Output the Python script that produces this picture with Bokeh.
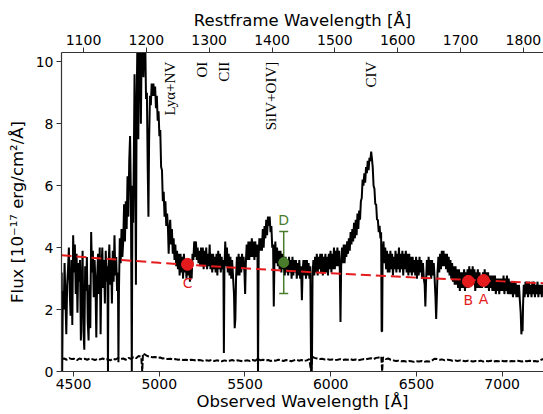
import math
from bokeh.plotting import figure
from bokeh.models import Range1d, LinearAxis, FixedTicker, ColumnDataSource, Whisker, TeeHead
from bokeh.embed import file_html
from bokeh.resources import INLINE
from bokeh.core.properties import value

# ---------------- data ----------------
# observed spectrum: (wavelength [Å], flux [1e-17 erg/cm2/Å])
spectrum = [
    (4431, 3.2), (4434, 0.0), (4438, 2.6), (4443, 2.0), (4448, 3.5), (4453, 2.3), (4458, 1.2), (4463, 2.8),
    (4468, 3.3), (4473, 4.0), (4478, 2.6), (4483, 1.8), (4488, 3.6), (4493, 1.5), (4498, 4.4), (4503, 3.2),
    (4508, 4.1), (4513, 2.5), (4518, 3.8), (4523, 1.9), (4528, 3.5), (4533, 2.9), (4538, 3.6), (4543, 1.0),
    (4548, 2.7), (4553, 3.9), (4558, 1.3), (4563, 0.7), (4568, 3.4), (4573, 2.6), (4578, 3.7), (4583, 1.6),
    (4588, 1.0), (4593, 2.8), (4598, 1.4), (4603, 4.5), (4608, 3.2), (4613, 3.9), (4618, 2.4), (4623, 3.6),
    (4628, 2.9), (4633, 1.1), (4638, 3.0), (4643, 3.8), (4648, 2.5), (4653, 4.0), (4658, 1.2), (4663, 3.3),
    (4668, 4.0), (4673, 2.7), (4678, 3.6), (4683, 2.2), (4688, 3.9), (4693, 2.9), (4698, 3.4), (4701, 0.0),
    (4704, 3.3), (4709, 4.1), (4714, 2.8), (4719, 3.6), (4724, 2.2), (4729, 3.9), (4734, 2.9), (4739, 4.4),
    (4744, 3.1), (4749, 3.7), (4754, 2.6), (4759, 3.2), (4762, 0.3), (4765, 2.6), (4770, 4.3), (4775, 3.5),
    (4780, 4.6), (4785, 3.7), (4790, 4.2), (4795, 5.4), (4800, 4.2), (4805, 5.5), (4810, 4.6), (4815, 6.3),
    (4820, 5.0), (4825, 6.8), (4830, 7.6), (4835, 5.5), (4840, 0.0), (4844, 6.0), (4848, 4.8), (4852, 7.0),
    (4856, 9.6), (4860, 7.0), (4864, 2.8), (4868, 8.5), (4873, 10.8), (4878, 7.5), (4883, 10.8), (4888, 10.8),
    (4893, 8.0), (4898, 10.8), (4903, 10.8), (4908, 9.5), (4913, 10.8), (4918, 10.8), (4923, 8.8), (4928, 9.0),
    (4933, 6.5), (4937, 5.0), (4941, 7.5), (4946, 8.9), (4951, 8.6), (4956, 9.3), (4961, 8.9), (4966, 9.3),
    (4971, 8.9), (4976, 9.2), (4981, 8.5), (4986, 8.9), (4991, 8.1), (4996, 8.4), (5001, 7.6), (5006, 7.8),
    (5011, 6.6), (5016, 6.5), (5021, 5.5), (5026, 5.8), (5031, 5.0), (5036, 5.5), (5041, 4.7), (5046, 5.1),
    (5051, 4.6), (5055, 3.8), (5059, 4.5), (5064, 4.9), (5069, 4.1), (5074, 4.6), (5079, 3.8), (5084, 4.3),
    (5089, 3.6), (5094, 4.1), (5099, 3.4), (5104, 3.9), (5109, 3.3), (5114, 3.8), (5119, 3.1), (5124, 3.8),
    (5129, 3.2), (5134, 3.7), (5139, 3.0), (5144, 3.8), (5149, 3.2), (5154, 3.6), (5159, 3.0), (5164, 3.6),
    (5169, 3.1), (5174, 3.6), (5179, 2.9), (5184, 3.5), (5189, 3.0), (5194, 3.8), (5199, 3.6), (5204, 4.2),
    (5209, 3.7), (5214, 4.2), (5219, 3.6), (5224, 4.0), (5229, 3.5), (5234, 3.9), (5239, 3.4), (5244, 4.0),
    (5249, 3.4), (5254, 4.0), (5259, 3.3), (5264, 3.9), (5269, 3.4), (5274, 4.0), (5279, 3.3), (5284, 3.8),
    (5289, 3.4), (5294, 4.1), (5299, 3.3), (5304, 3.8), (5309, 3.2), (5314, 3.8), (5319, 3.3), (5324, 3.7),
    (5329, 3.2), (5334, 3.8), (5339, 3.1), (5344, 3.9), (5349, 3.3), (5354, 3.8), (5359, 3.2), (5364, 3.7),
    (5369, 3.3), (5374, 3.6), (5377, 0.6), (5380, 3.3), (5385, 4.2), (5390, 3.4), (5395, 4.0), (5400, 3.2),
    (5405, 3.8), (5410, 3.1), (5415, 3.7), (5420, 3.0), (5425, 3.6), (5430, 3.1), (5436, 2.5), (5440, 1.4),
    (5444, 1.7), (5448, 3.0), (5453, 3.7), (5458, 3.1), (5463, 3.8), (5468, 3.1), (5473, 3.7), (5478, 3.2),
    (5483, 3.8), (5488, 3.3), (5492, 3.7), (5497, 3.2), (5501, 2.5), (5505, 3.5), (5510, 4.1), (5515, 3.6),
    (5520, 4.2), (5525, 3.6), (5530, 4.2), (5535, 3.7), (5540, 4.3), (5545, 3.7), (5550, 4.2), (5555, 3.6),
    (5560, 4.2), (5565, 3.7), (5570, 4.1), (5573, 3.8), (5576, -0.2), (5580, 3.8), (5584, 4.3), (5589, 3.9),
    (5594, 4.3), (5599, 3.9), (5604, 4.6), (5609, 4.0), (5614, 4.7), (5619, 4.3), (5624, 4.9), (5629, 4.4),
    (5634, 5.0), (5639, 4.7), (5644, 5.0), (5649, 4.5), (5654, 4.7), (5659, 4.0), (5664, 4.1), (5668, 2.1),
    (5672, 3.6), (5677, 4.2), (5682, 3.5), (5687, 4.0), (5692, 3.4), (5697, 3.9), (5702, 3.3), (5707, 3.9),
    (5712, 3.2), (5717, 3.8), (5722, 3.3), (5727, 3.7), (5732, 3.1), (5737, 3.7), (5742, 3.2), (5747, 3.6),
    (5752, 3.1), (5757, 3.7), (5762, 3.2), (5767, 3.6), (5772, 3.0), (5777, 3.7), (5782, 3.1), (5787, 3.6),
    (5792, 3.2), (5797, 3.6), (5802, 3.0), (5807, 3.5), (5812, 3.1), (5817, 3.6), (5822, 3.0), (5827, 3.4),
    (5832, 2.3), (5836, 3.2), (5841, 3.6), (5846, 3.1), (5851, 3.6), (5856, 3.0), (5861, 3.6), (5866, 3.1),
    (5871, 3.5), (5876, 3.0), (5881, 3.4), (5885, 0.5), (5888, -0.2), (5891, 0.5), (5894, 3.1), (5899, 3.6),
    (5904, 3.1), (5909, 3.7), (5914, 3.2), (5919, 3.8), (5924, 3.1), (5929, 3.7), (5934, 3.3), (5939, 3.8),
    (5944, 3.2), (5949, 3.8), (5954, 3.1), (5959, 3.7), (5964, 3.2), (5969, 3.8), (5974, 3.2), (5979, 3.7),
    (5984, 3.1), (5989, 3.8), (5994, 3.3), (5999, 3.9), (6004, 3.2), (6009, 3.8), (6014, 3.3), (6019, 4.0),
    (6024, 3.3), (6029, 3.9), (6034, 3.4), (6039, 4.0), (6044, 3.4), (6049, 3.9), (6053, 3.3), (6057, 1.6),
    (6061, 3.4), (6066, 4.0), (6071, 3.5), (6076, 4.1), (6081, 3.5), (6086, 4.1), (6091, 3.7), (6096, 4.2),
    (6101, 3.8), (6106, 4.3), (6111, 3.9), (6116, 4.5), (6121, 4.1), (6126, 4.6), (6131, 4.2), (6136, 4.8),
    (6141, 4.3), (6146, 4.9), (6151, 4.4), (6156, 5.1), (6161, 4.6), (6166, 5.2), (6171, 4.9), (6176, 5.5),
    (6181, 5.6), (6186, 6.2), (6191, 6.0), (6196, 6.4), (6201, 6.1), (6206, 6.6), (6211, 6.4), (6216, 6.8),
    (6221, 6.5), (6226, 6.9), (6231, 6.8), (6236, 7.1), (6240, 6.9), (6245, 6.6), (6250, 6.0), (6255, 5.9),
    (6260, 5.4), (6265, 5.4), (6270, 4.9), (6275, 4.9), (6280, 4.5), (6285, 4.7), (6290, 4.3), (6294, 4.5),
    (6297, 1.3), (6300, 1.3), (6303, 3.9), (6308, 4.2), (6313, 3.5), (6318, 4.0), (6323, 3.3), (6328, 3.9),
    (6333, 3.2), (6338, 3.8), (6343, 3.2), (6348, 3.9), (6353, 3.3), (6358, 3.8), (6363, 3.1), (6368, 3.7),
    (6373, 3.3), (6378, 3.9), (6383, 3.2), (6388, 3.8), (6393, 3.3), (6398, 4.0), (6403, 3.2), (6408, 3.8),
    (6413, 3.3), (6418, 3.9), (6423, 3.1), (6428, 3.8), (6433, 3.3), (6438, 3.9), (6443, 3.2), (6448, 3.8),
    (6453, 3.1), (6458, 3.8), (6463, 3.2), (6468, 3.7), (6473, 3.1), (6478, 3.7), (6483, 3.2), (6488, 3.6),
    (6493, 3.1), (6498, 3.7), (6503, 3.0), (6508, 3.6), (6513, 3.1), (6518, 3.7), (6523, 3.2), (6528, 3.6),
    (6533, 3.0), (6538, 3.5), (6543, 3.0), (6548, 2.8), (6552, 2.1), (6556, 2.9), (6561, 3.6), (6566, 3.1),
    (6571, 3.7), (6576, 3.1), (6581, 3.6), (6586, 3.0), (6591, 3.6), (6596, 3.1), (6601, 3.5), (6606, 3.0),
    (6611, 2.4), (6615, 1.7), (6619, 2.4), (6623, 3.2), (6628, 3.7), (6633, 3.2), (6638, 3.8), (6643, 3.3),
    (6648, 3.9), (6653, 3.4), (6658, 3.9), (6663, 3.4), (6668, 3.8), (6673, 3.3), (6678, 3.8), (6683, 3.2),
    (6688, 3.7), (6693, 3.1), (6698, 3.6), (6703, 3.0), (6708, 3.5), (6713, 2.9), (6718, 3.4), (6723, 2.8),
    (6728, 3.4), (6733, 2.8), (6738, 3.3), (6743, 2.7), (6748, 3.3), (6753, 2.6), (6758, 3.2), (6763, 2.7),
    (6768, 3.2), (6773, 2.7), (6778, 3.3), (6783, 2.6), (6788, 3.2), (6793, 2.7), (6798, 3.3), (6803, 2.7),
    (6808, 3.4), (6813, 2.8), (6818, 3.3), (6823, 2.8), (6828, 3.4), (6833, 2.8), (6838, 3.3), (6843, 2.6),
    (6848, 3.2), (6853, 2.7), (6858, 3.3), (6863, 2.7), (6868, 3.2), (6873, 2.7), (6878, 3.1), (6883, 2.7),
    (6888, 3.2), (6893, 2.8), (6898, 3.3), (6903, 2.7), (6908, 3.2), (6913, 2.7), (6918, 3.2), (6923, 2.6),
    (6928, 3.1), (6933, 2.7), (6938, 3.1), (6943, 2.6), (6948, 3.1), (6953, 2.6), (6958, 3.1), (6963, 2.5),
    (6968, 3.0), (6973, 2.6), (6978, 3.0), (6983, 2.5), (6988, 3.0), (6993, 2.6), (6998, 3.0), (7003, 2.6),
    (7008, 3.1), (7013, 2.5), (7018, 3.0), (7023, 2.6), (7028, 3.1), (7033, 2.5), (7038, 3.0), (7043, 2.5),
    (7048, 2.9), (7053, 2.5), (7058, 2.9), (7063, 2.4), (7068, 2.9), (7073, 2.5), (7078, 2.9), (7083, 2.4),
    (7088, 2.8), (7093, 2.4), (7098, 2.8), (7103, 2.3), (7108, 1.9), (7112, 1.2), (7116, 1.6), (7119, 1.3),
    (7122, 2.2), (7126, 2.8), (7131, 2.4), (7136, 2.9), (7141, 2.5), (7146, 2.9), (7151, 2.4), (7156, 2.9),
    (7161, 2.5), (7166, 2.8), (7171, 2.4), (7176, 2.9), (7181, 2.5), (7186, 2.9), (7191, 2.4), (7196, 2.8),
    (7201, 2.5), (7206, 2.9), (7211, 2.4), (7216, 2.8), (7221, 2.5), (7226, 2.8), (7231, 2.4), (7236, 2.8),
    (7241, 2.6),
]

# flux uncertainty spectrum (dashed, near the bottom)
noise = [
    (4432, 0.40), (4445, 0.42), (4460, 0.38), (4475, 0.43), (4490, 0.40), (4505, 0.41), (4520, 0.37), (4535, 0.42),
    (4550, 0.39), (4565, 0.41), (4580, 0.38), (4595, 0.42), (4610, 0.40), (4625, 0.37), (4640, 0.41), (4655, 0.39),
    (4670, 0.42), (4685, 0.38), (4700, 0.40), (4715, 0.36), (4730, 0.41), (4745, 0.39), (4760, 0.43), (4775, 0.40),
    (4790, 0.42), (4805, 0.38), (4820, 0.44), (4835, 0.41), (4850, 0.46), (4865, 0.43), (4880, 0.50), (4895, 0.47),
    (4901, 0.0), (4905, 0.58), (4915, 0.55), (4930, 0.50), (4945, 0.48), (4960, 0.46), (4975, 0.47), (4990, 0.44),
    (5005, 0.45), (5020, 0.42), (5035, 0.43), (5050, 0.40), (5065, 0.41), (5080, 0.39), (5095, 0.40), (5110, 0.38),
    (5125, 0.39), (5140, 0.37), (5155, 0.38), (5170, 0.36), (5185, 0.38), (5200, 0.37), (5215, 0.35), (5230, 0.37),
    (5245, 0.36), (5260, 0.34), (5275, 0.36), (5290, 0.35), (5305, 0.37), (5320, 0.34), (5335, 0.36), (5350, 0.35),
    (5365, 0.33), (5380, 0.36), (5395, 0.34), (5410, 0.35), (5425, 0.37), (5440, 0.34), (5455, 0.36), (5470, 0.35),
    (5485, 0.33), (5500, 0.35), (5515, 0.36), (5530, 0.34), (5545, 0.37), (5560, 0.35), (5575, 0.42), (5590, 0.36),
    (5605, 0.38), (5620, 0.35), (5635, 0.37), (5650, 0.34), (5665, 0.36), (5680, 0.35), (5695, 0.38), (5710, 0.36),
    (5725, 0.34), (5740, 0.37), (5755, 0.35), (5770, 0.33), (5785, 0.36), (5800, 0.38), (5815, 0.35), (5830, 0.37),
    (5845, 0.34), (5860, 0.36), (5875, 0.40), (5886, 0.0), (5892, 0.48), (5905, 0.44), (5920, 0.42), (5935, 0.40),
    (5950, 0.41), (5965, 0.39), (5980, 0.40), (5995, 0.38), (6010, 0.39), (6025, 0.37), (6040, 0.38), (6055, 0.40),
    (6070, 0.37), (6085, 0.39), (6100, 0.38), (6115, 0.40), (6130, 0.37), (6145, 0.39), (6160, 0.36), (6175, 0.38),
    (6190, 0.40), (6205, 0.39), (6220, 0.41), (6235, 0.43), (6250, 0.40), (6265, 0.44), (6280, 0.45), (6295, 0.48),
    (6300, 0.0), (6305, 0.46), (6320, 0.40), (6335, 0.42), (6350, 0.38), (6365, 0.36), (6380, 0.34), (6395, 0.35),
    (6410, 0.33), (6425, 0.34), (6440, 0.32), (6455, 0.34), (6470, 0.33), (6485, 0.31), (6500, 0.33), (6515, 0.32),
    (6530, 0.34), (6545, 0.31), (6560, 0.33), (6575, 0.32), (6590, 0.35), (6605, 0.41), (6620, 0.40), (6635, 0.38),
    (6650, 0.39), (6665, 0.36), (6680, 0.38), (6695, 0.37), (6710, 0.35), (6725, 0.36), (6740, 0.34), (6755, 0.36),
    (6770, 0.35), (6785, 0.33), (6800, 0.35), (6815, 0.34), (6830, 0.32), (6845, 0.34), (6860, 0.33), (6875, 0.35),
    (6890, 0.32), (6905, 0.34), (6920, 0.33), (6935, 0.35), (6950, 0.32), (6965, 0.34), (6980, 0.33), (6995, 0.35),
    (7010, 0.33), (7025, 0.34), (7040, 0.32), (7055, 0.34), (7070, 0.33), (7085, 0.35), (7100, 0.34), (7115, 0.32),
    (7130, 0.34), (7145, 0.33), (7160, 0.35), (7175, 0.33), (7190, 0.34), (7205, 0.32), (7220, 0.36), (7235, 0.40),
    (7241, 0.38),
]

# continuum fit (red dashed)
continuum_wave = [4430, 5000, 5500, 6000, 6500, 7000, 7241]
continuum_flux = [3.75, 3.51, 3.33, 3.17, 3.03, 2.91, 2.85]

# continuum points A, B, C
point_labels = ["A", "B", "C"]
point_wave = [6891, 6803, 5165]
point_flux = [2.94, 2.91, 3.46]

# photometric point D with error bar
d_labels = ["D"]
d_wave = [5726]
d_flux = [3.52]
d_err = [1.0]

# emission-line labels
line_names = ["Lyα+NV", "OI", "CII", "SiIV+OIV]", "CIV"]
line_wave = [5060, 5250, 5380, 5649, 6237]

obs_ticks = [4500, 5000, 5500, 6000, 6500, 7000]
rest_ticks = [1100, 1200, 1300, 1400, 1500, 1600, 1700, 1800]
flux_ticks = [0, 2, 4, 6, 8, 10]

# ---------------- styles ----------------
RED = "#e41a1c"
GREEN = "#4a7d2b"
AXIS = "#333333"
SANS = "DejaVu Sans"
LABEL_TOP = 10.0  # flux level at which the line labels end

p = figure(width=543, height=414,
           x_range=Range1d(4430, 7241), y_range=Range1d(0, 10.3),
           output_backend="svg", toolbar_location=None,
           min_border_left=61, min_border_right=0, min_border_top=52, min_border_bottom=43)
p.extra_x_ranges = {"rest": Range1d(1065, 1832)}
p.xgrid.visible = False
p.ygrid.visible = False
p.outline_line_color = None
p.background_fill_color = "white"
p.border_fill_color = "white"

bottom_axis = p.below[0]
left_axis = p.left[0]
top_axis = LinearAxis(x_range_name="rest")
p.add_layout(top_axis, "above")

bottom_axis.axis_label = "Observed Wavelength [Å]"
top_axis.axis_label = "Restframe Wavelength [Å]"
left_axis.axis_label = "Flux [10⁻¹⁷ erg/cm²/Å]"
bottom_axis.ticker = FixedTicker(ticks=obs_ticks)
top_axis.ticker = FixedTicker(ticks=rest_ticks)
left_axis.ticker = FixedTicker(ticks=flux_ticks)

for ax in [bottom_axis, left_axis, top_axis]:
    ax.major_tick_out = 5
    ax.major_tick_in = 0
    ax.minor_tick_out = 0
    ax.minor_tick_in = 0
    ax.axis_line_color = AXIS
    ax.axis_line_width = 1.2
    ax.major_tick_line_color = AXIS
    ax.major_label_text_font = SANS
    ax.major_label_text_font_size = "14px"
    ax.major_label_text_color = "black"
    ax.axis_label_text_font = SANS
    ax.axis_label_text_font_size = "16.5px"
    ax.axis_label_text_font_style = "normal"
    ax.axis_label_text_color = "black"
    ax.major_label_standoff = 3
    ax.axis_label_standoff = 2
left_axis.axis_label_standoff = 6
bottom_axis.major_label_standoff = 2
bottom_axis.axis_label_standoff = 0

spec_src = ColumnDataSource(dict(x=[w for w, f in spectrum], y=[f for w, f in spectrum]))
noise_src = ColumnDataSource(dict(x=[w for w, f in noise], y=[f for w, f in noise]))

p.line("x", "y", source=spec_src, line_color="black", line_width=2)
p.line("x", "y", source=noise_src, line_color="black", line_width=2, line_dash="6 2")
p.line(continuum_wave, continuum_flux, line_color=RED, line_width=2, line_dash="10 5")

# A, B, C points
pt_src = ColumnDataSource(dict(x=point_wave, y=point_flux, t=point_labels))
p.scatter("x", "y", source=pt_src, size=12, fill_color=RED, line_color=RED)
p.text("x", "y", text="t", source=pt_src, y_offset=19, text_align="center", text_baseline="middle",
       text_color=RED, text_font=value(SANS), text_font_size="14px")

# D point with error bar
d_src = ColumnDataSource(dict(x=d_wave, y=d_flux,
                              upper=[f + e for f, e in zip(d_flux, d_err)],
                              lower=[f - e for f, e in zip(d_flux, d_err)],
                              t=d_labels))
p.add_layout(Whisker(source=d_src, base="x", upper="upper", lower="lower", dimension="height",
                     line_color=GREEN, line_width=1.5,
                     upper_head=TeeHead(size=9, line_color=GREEN, line_width=1.5),
                     lower_head=TeeHead(size=9, line_color=GREEN, line_width=1.5)))
p.scatter("x", "y", source=d_src, size=10, fill_color=GREEN, line_color=GREEN)
p.text("x", "upper", text="t", source=d_src, y_offset=-12, text_align="center", text_baseline="alphabetic",
       text_color=GREEN, text_font=value(SANS), text_font_size="14px")

# emission-line labels
ln_src = ColumnDataSource(dict(x=line_wave, y=[LABEL_TOP] * len(line_wave), t=line_names))
p.text("x", "y", text="t", source=ln_src, angle=math.pi / 2, text_align="right", text_baseline="middle",
       text_color="black", text_font=value("Liberation Serif"), text_font_size="15px")

open("out.html", "w").write(file_html(p, INLINE))
